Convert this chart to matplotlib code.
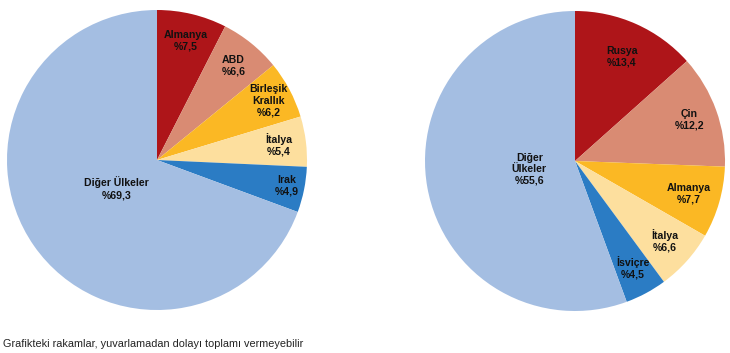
import numpy as np
import matplotlib
matplotlib.use("Agg")
import matplotlib.pyplot as plt

left_labels = ["Almanya", "ABD", "Birleşik\nKrallık", "İtalya", "Irak", "Diğer Ülkeler"]
left_values = [7.5, 6.6, 6.2, 5.4, 4.9, 69.3]
left_texts = ["%7,5", "%6,6", "%6,2", "%5,4", "%4,9", "%69,3"]

right_labels = ["Rusya", "Çin", "Almanya", "İtalya", "İsviçre", "Diğer\nÜlkeler"]
right_values = [13.4, 12.2, 7.7, 6.6, 4.5, 55.6]
right_texts = ["%13,4", "%12,2", "%7,7", "%6,6", "%4,5", "%55,6"]

colors = ["#AE1519", "#D98B73", "#FBB824", "#FDDF9E", "#2B7CC4", "#A4BEE2"]

left_dist = [0.82, 0.81, 0.84, 0.82, 0.88, 0.33]
right_dist = [0.76, 0.81, 0.79, 0.80, 0.81, 0.31]

W, H = 730, 353
fig = plt.figure(figsize=(W / 100, H / 100), dpi=100)


def draw(cx, cy, r, labels, values, texts, dists):
    ax = fig.add_axes([(cx - r) / W, (H - cy - r) / H, 2 * r / W, 2 * r / H])
    wedges, _ = ax.pie(values, colors=colors, startangle=90, counterclock=False,
                       radius=1, wedgeprops=dict(linewidth=0))
    ax.set_xlim(-1, 1)
    ax.set_ylim(-1, 1)
    ax.set_aspect("equal")
    ax.axis("off")
    for w, lab, t, d in zip(wedges, labels, texts, dists):
        ang = np.deg2rad((w.theta1 + w.theta2) / 2)
        ax.text(d * np.cos(ang), d * np.sin(ang), lab + "\n" + t,
                ha="center", va="center", fontsize=7.6, fontweight="bold",
                family=["Liberation Sans", "DejaVu Sans"], color="#111111",
                linespacing=1.2)


draw(157, 160, 150, left_labels, left_values, left_texts, left_dist)
draw(575, 161, 150, right_labels, right_values, right_texts, right_dist)

fig.text(3 / W, 1 - 344 / H, "Grafikteki rakamlar, yuvarlamadan dolayı toplamı vermeyebilir",
         ha="left", va="center", fontsize=7.8, family=["Liberation Sans", "DejaVu Sans"],
         color="#222222")

fig.savefig("out.png", dpi=100)
